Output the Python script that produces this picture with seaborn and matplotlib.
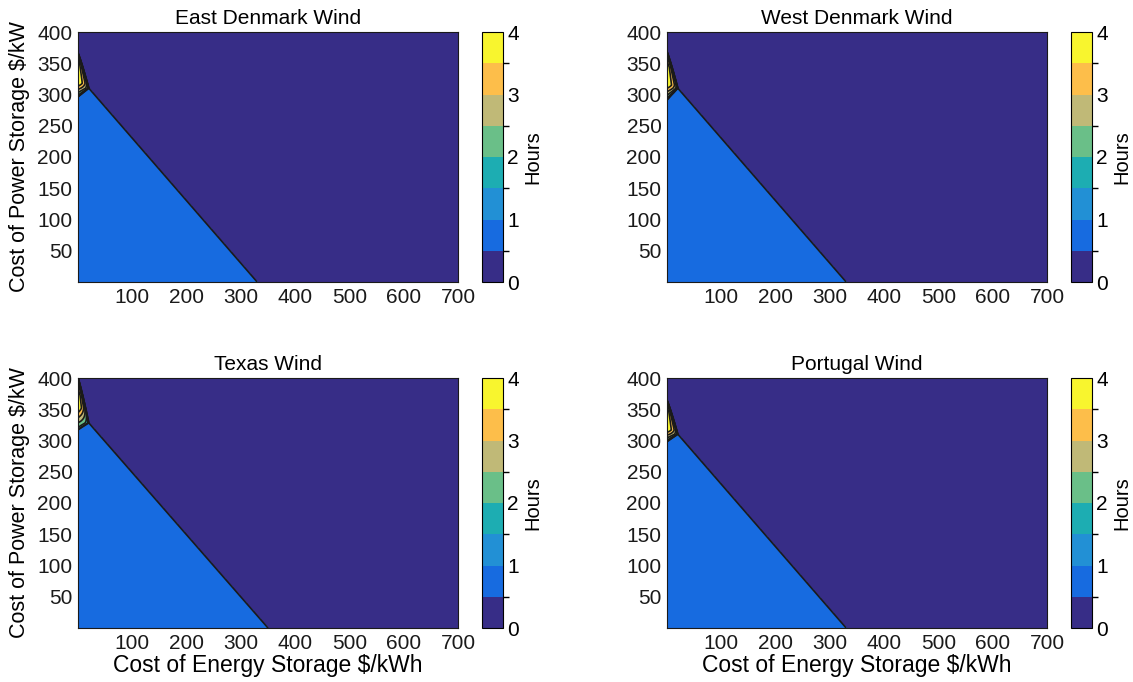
import numpy as np
import matplotlib
matplotlib.use("Agg")
import matplotlib.pyplot as plt
from matplotlib.colors import ListedColormap, BoundaryNorm
import seaborn as sns

# ---------------- data ----------------
titles = ["East Denmark Wind", "West Denmark Wind", "Texas Wind", "Portugal Wind"]
# boundary of the 0.5-1 h (blue) region
x_intercepts = [330, 330, 350, 330]   # $/kWh where blue region meets x axis
kink_x = [20, 20, 20, 20]             # corner of the blue region near y axis
kink_y = [310, 310, 328, 310]
blue_start_y = [296, 291, 317, 298]   # where blue region meets y axis
# narrow high-hours wedge along the y axis
wedge_top_y = [366, 368, 400, 364]
yellow_lo = [318, 315, 352, 317]
yellow_hi = [352, 344, 372, 346]
wedge_peak_hours = [[1.8, 3.95, 3.95, 2.8],
                    [1.8, 3.95, 3.95, 2.8],
                    [1.8, 3.95, 3.95, 2.8],
                    [1.8, 3.95, 3.95, 2.8]]

levels = [0, 0.5, 1.0, 1.5, 2.0, 2.5, 3.0, 3.5, 4.0]
hour_colors = ["#372d87", "#176be0", "#2290d5", "#1dadb2",
               "#6abf88", "#c0b977", "#fdbe4a", "#f8f52e"]
x_ticks = [100, 200, 300, 400, 500, 600, 700]
y_ticks = [50, 100, 150, 200, 250, 300, 350, 400]
cbar_ticks = [0, 1, 2, 3, 4]

# ---------------- style ----------------
sns.set_theme(style="ticks")
plt.rcParams["font.family"] = ["Liberation Sans", "DejaVu Sans"]
for k in ["text.color", "axes.labelcolor", "xtick.color", "ytick.color",
          "axes.edgecolor"]:
    plt.rcParams[k] = "black"

cmap = ListedColormap(sns.color_palette(hour_colors))
norm = BoundaryNorm(levels, cmap.N)

x = np.linspace(0, 700, 1401)
y = np.linspace(0, 400, 801)
X, Y = np.meshgrid(x, y)


def hours_field(i):
    xi, kx, ky, yb = x_intercepts[i], kink_x[i], kink_y[i], blue_start_y[i]
    top = np.interp(X, [0, kx, xi, 700], [yb, ky, 0, -50])
    base = 0.5 + 0.25 * np.clip((top - Y) / 2.0, -1, 1)
    yt = wedge_top_y[i]
    w = np.zeros_like(Y)
    low = (Y >= yb) & (Y < ky)
    w[low] = kx * (Y[low] - yb) / (ky - yb)
    up = (Y >= ky) & (Y <= yt)
    w[up] = kx * ((yt - Y[up]) / (yt - ky)) ** 0.9
    hp = np.interp(Y, [yb, yellow_lo[i], yellow_hi[i], yt], wedge_peak_hours[i])
    s = np.zeros_like(Y)
    inside = (w > 0) & (X < w)
    s[inside] = 1 - X[inside] / w[inside]
    wedge = hp * s ** 0.2
    return np.maximum(base, wedge)


fig = plt.figure(figsize=(11.33, 6.82), dpi=100)
W, H = 1133.0, 682.0
lefts = [78, 667]
tops = [32, 378]
ax_w, ax_h = 380, 250
for i in range(4):
    r, c = divmod(i, 2)
    l, t = lefts[c], tops[r]
    ax = fig.add_axes([l / W, (H - t - ax_h) / H, ax_w / W, ax_h / H])
    Z = hours_field(i)
    ax.contourf(X, Y, Z, levels=levels, cmap=cmap, norm=norm)
    ax.contour(X, Y, Z, levels=levels[1:-1], colors="k", linewidths=1.2)
    ax.set_xlim(0, 700)
    ax.set_ylim(0, 400)
    ax.set_xticks(x_ticks)
    ax.set_yticks(y_ticks)
    ax.tick_params(direction="in", top=True, right=True, length=4,
                   labelsize=15, width=0.6, colors="k", pad=4)
    for sp in ax.spines.values():
        sp.set_linewidth(0.8)
        sp.set_color("k")
    ax.set_title(titles[i], fontsize=15, pad=6)
    if c == 0:
        ax.set_ylabel("Cost of Power Storage $/kW", fontsize=15.5, labelpad=5)
    if r == 1:
        ax.set_xlabel("Cost of Energy Storage $/kWh", fontsize=16.5, labelpad=1)
    cax = fig.add_axes([(l + ax_w + 24) / W, (H - t - ax_h) / H, 21 / W, ax_h / H])
    sm = matplotlib.cm.ScalarMappable(norm=norm, cmap=cmap)
    cb = fig.colorbar(sm, cax=cax, ticks=cbar_ticks)
    cb.ax.tick_params(direction="in", length=3, labelsize=15, width=0.6, pad=3)
    cb.outline.set_linewidth(0.8)
    cb.set_label("Hours", fontsize=14.5, labelpad=3)

fig.savefig("out.png", dpi=100)
